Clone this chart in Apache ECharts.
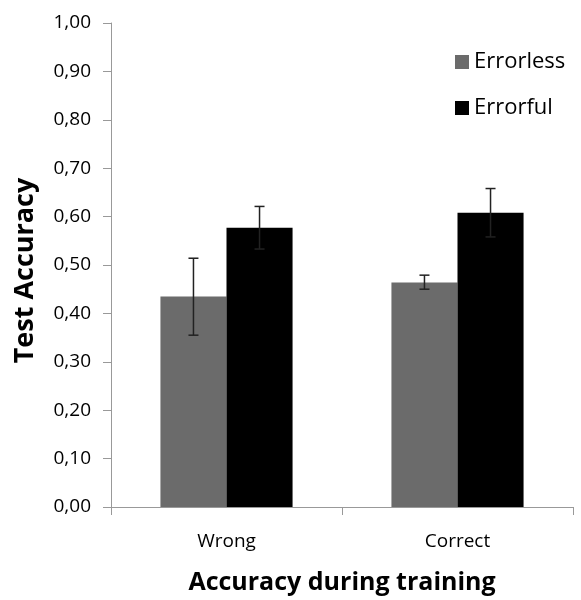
<!DOCTYPE html>
<html><head><meta charset="utf-8">
<script src="https://cdn.jsdelivr.net/npm/echarts@6/dist/echarts.min.js"></script>
<style>html,body{margin:0;padding:0;background:#fff}#c{width:581px;height:600px}</style>
</head><body><div id="c"></div>
<script>
const categories = ['Wrong', 'Correct'];
const seriesNames = ['Errorless', 'Errorful'];
const errorless = [0.435, 0.464];
const errorful = [0.577, 0.608];
const errorlessLow = [0.355, 0.450];
const errorlessHigh = [0.514, 0.479];
const errorfulLow = [0.533, 0.558];
const errorfulHigh = [0.621, 0.658];
const yTicks = [0, 1, 0.1];

const FONT = 'Open Sans';
const BAR_RATIO = 0.286;

function errData(low, high) {
  return categories.map((c, i) => [i, low[i], high[i]]);
}
function errSeries(name, low, high, side) {
  return {
    type: 'custom',
    name: name + ' err',
    data: errData(low, high),
    z: 10,
    silent: true,
    renderItem: function (params, api) {
      const idx = api.value(0);
      const lo = api.coord([idx, api.value(1)]);
      const hi = api.coord([idx, api.value(2)]);
      const bw = api.size([1, 0])[0] * BAR_RATIO;
      const x = lo[0] + side * bw / 2;
      const cap = 5;
      const style = { stroke: '#222', lineWidth: 1.5 };
      return {
        type: 'group',
        children: [
          { type: 'line', shape: { x1: x, y1: lo[1], x2: x, y2: hi[1] }, style },
          { type: 'line', shape: { x1: x - cap, y1: lo[1], x2: x + cap, y2: lo[1] }, style },
          { type: 'line', shape: { x1: x - cap, y1: hi[1], x2: x + cap, y2: hi[1] }, style }
        ]
      };
    }
  };
}

const chart = echarts.init(document.getElementById('c'));
chart.setOption({
  animation: false,
  textStyle: { fontFamily: FONT },
  grid: { left: 111, right: 8, top: 23, bottom: 86, containLabel: false },
  legend: {
    data: seriesNames,
    orient: 'vertical',
    left: 450, top: 46,
    icon: 'rect',
    itemWidth: 14, itemHeight: 14, itemGap: 24,
    textStyle: { fontFamily: FONT, fontSize: 22, color: '#000' }
  },
  xAxis: {
    type: 'category',
    data: categories,
    name: 'Accuracy during training',
    nameLocation: 'middle',
    nameGap: 63,
    nameTextStyle: { fontFamily: FONT, fontWeight: 'bold', fontSize: 25, color: '#000' },
    axisLine: { lineStyle: { color: '#999' } },
    axisTick: { show: true, length: 8, lineStyle: { color: '#999' } },
    axisLabel: { margin: 25, fontSize: 19, color: '#000', fontFamily: FONT }
  },
  yAxis: {
    type: 'value',
    min: yTicks[0], max: yTicks[1], interval: yTicks[2],
    name: 'Test Accuracy',
    nameLocation: 'middle',
    nameGap: 72,
    nameTextStyle: { fontFamily: FONT, fontWeight: 'bold', fontSize: 27, color: '#000', padding: [0, 11, 0, 0] },
    axisLine: { show: true, lineStyle: { color: '#999' } },
    axisTick: { show: true, length: 8, lineStyle: { color: '#999' } },
    splitLine: { show: false },
    axisLabel: {
      margin: 20, fontSize: 19, color: '#000', fontFamily: FONT,
      formatter: v => v.toFixed(2).replace('.', ',')
    }
  },
  series: [
    { type: 'bar', name: seriesNames[0], data: errorless, barWidth: (BAR_RATIO * 100) + '%', barGap: '0%', itemStyle: { color: '#6b6b6b' } },
    { type: 'bar', name: seriesNames[1], data: errorful, barWidth: (BAR_RATIO * 100) + '%', barGap: '0%', itemStyle: { color: '#000' } },
    errSeries(seriesNames[0], errorlessLow, errorlessHigh, -1),
    errSeries(seriesNames[1], errorfulLow, errorfulHigh, 1)
  ]
});
</script></body></html>
